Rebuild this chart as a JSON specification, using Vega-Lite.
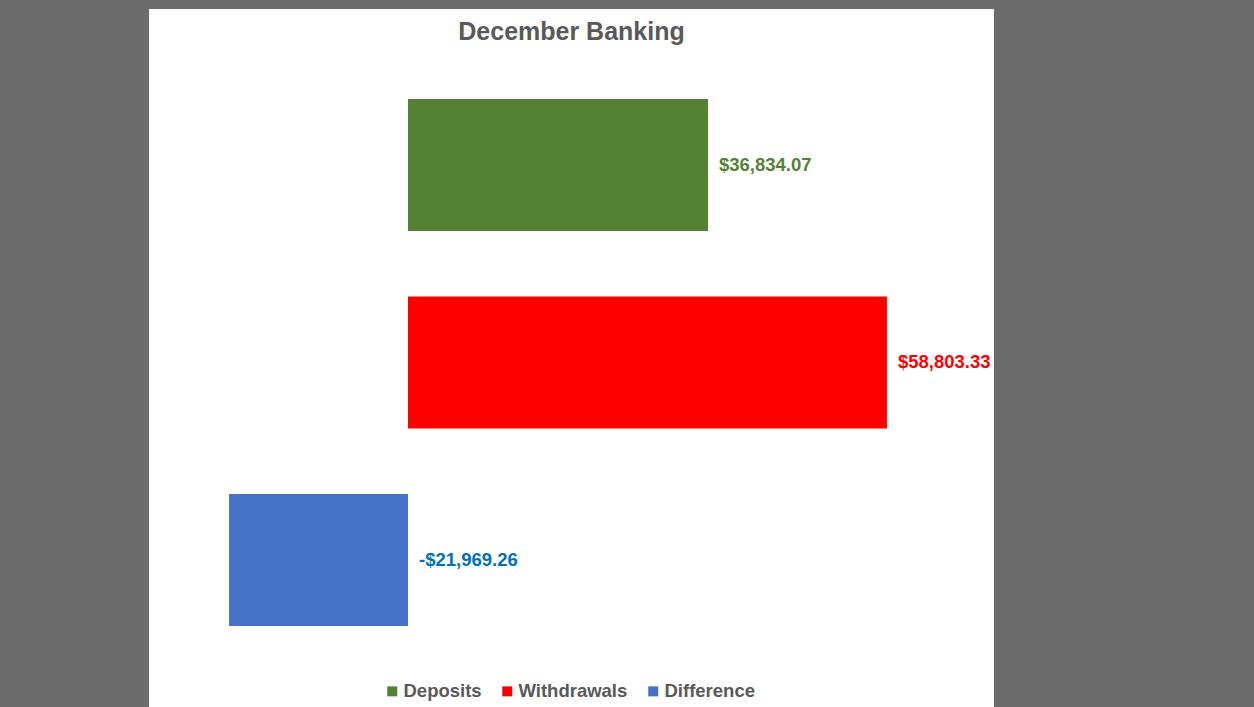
{
  "$schema": "https://vega.github.io/schema/vega-lite/v6.json",
  "autosize": "none",
  "width": 845,
  "height": 698,
  "padding": {"left": 149, "top": 9, "right": 260, "bottom": 0},
  "background": "#6b6b6b",
  "config": {"view": {"fill": "white", "stroke": null}},
  "title": {
    "text": "December Banking",
    "font": "Liberation Sans",
    "fontSize": 25,
    "fontWeight": "bold",
    "color": "#595959",
    "anchor": "middle",
    "orient": "top",
    "baseline": "alphabetic",
    "offset": -32,
    "dy": 24
  },
  "data": {
    "values": [
      {"category": "Deposits", "value": 36834.07, "label": "$36,834.07"},
      {"category": "Withdrawals", "value": 58803.33, "label": "$58,803.33"},
      {"category": "Difference", "value": -21969.26, "label": "-$21,969.26"}
    ]
  },
  "transform": [{"calculate": "max(datum.value, 0)", "as": "labelPos"}],
  "encoding": {
    "y": {
      "field": "category",
      "type": "nominal",
      "sort": ["Deposits", "Withdrawals", "Difference"],
      "scale": {"paddingInner": 0.332, "paddingOuter": 0.433, "align": 0.526},
      "axis": null
    }
  },
  "layer": [
    {
      "mark": {"type": "bar"},
      "encoding": {
        "x": {
          "field": "value",
          "type": "quantitative",
          "scale": {"domain": [-31800, 71950], "nice": false, "zero": false},
          "axis": null
        },
        "color": {
          "field": "category",
          "type": "nominal",
          "scale": {
            "domain": ["Deposits", "Withdrawals", "Difference"],
            "range": ["#548235", "#FF0000", "#4472C4"]
          },
          "legend": {
            "title": null,
            "orient": "none",
            "direction": "horizontal",
            "legendX": 234,
            "legendY": 673,
            "symbolType": "square",
            "symbolSize": 100,
            "symbolStrokeWidth": 0,
            "labelFont": "Liberation Sans",
            "labelFontSize": 18.5,
            "labelFontWeight": "bold",
            "labelColor": "#595959",
            "labelOffset": 2,
            "columnPadding": 16
          }
        }
      }
    },
    {
      "mark": {
        "type": "text",
        "align": "left",
        "baseline": "middle",
        "dx": 11,
        "font": "Liberation Sans",
        "fontSize": 18.5,
        "fontWeight": "bold"
      },
      "encoding": {
        "x": {"field": "labelPos", "type": "quantitative"},
        "text": {"field": "label"},
        "color": {
          "field": "category",
          "type": "nominal",
          "scale": {
            "domain": ["Deposits", "Withdrawals", "Difference"],
            "range": ["#548235", "#FF0000", "#0070C0"]
          },
          "legend": null
        }
      }
    }
  ],
  "resolve": {"scale": {"color": "independent"}}
}
